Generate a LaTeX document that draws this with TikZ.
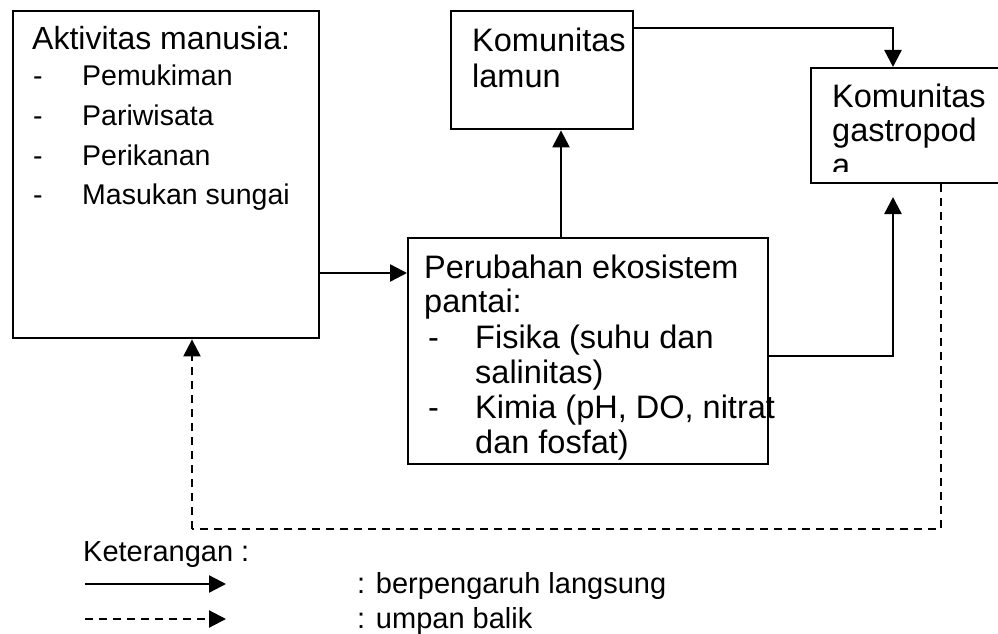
\documentclass[tikz,border=0pt]{standalone}
\usepackage{fontspec}
\setmainfont{Liberation Sans}
\usetikzlibrary{arrows.meta}
\begin{document}
\begin{tikzpicture}[x=1pt,y=-1pt,
  box/.style={draw,line width=2.4pt,anchor=north west,inner sep=0pt},
  arr/.style={line width=2.4pt,-{Triangle[length=17pt,width=17pt]}},
  darr/.style={line width=2.2pt,dash pattern=on 8pt off 6pt,-{Triangle[length=17pt,width=17pt]}},
  dline/.style={line width=2.2pt,dash pattern=on 8pt off 6pt},
  th/.style={anchor=base west,inner sep=0pt,font=\fontsize{32}{35}\selectfont},
  tl/.style={anchor=base west,inner sep=0pt,font=\fontsize{28.5}{35}\selectfont},
  tb/.style={anchor=base west,inner sep=0pt,font=\fontsize{32.5}{35}\selectfont},
  tg/.style={anchor=base west,inner sep=0pt,font=\fontsize{29}{35}\selectfont}]
\useasboundingbox[fill=white] (0,0) rectangle (998,634);
% boxes
\node[box,minimum width=306pt,minimum height=327pt] (act) at (12,10) {};
\node[box,minimum width=182pt,minimum height=118pt] (lam) at (450,10) {};
\node[box,minimum width=200pt,minimum height=115pt] (gas) at (810,67) {};
\node[box,minimum width=360pt,minimum height=226pt] (per) at (407,237) {};
% left box text
\node[th] (a0) at (32,50) {Aktivitas manusia:};
\node[tl] (a1d) at (33,85) {-};
\node[tl] (a1) at (82,85) {Pemukiman};
\node[tl] (a2d) at (33,125) {-};
\node[tl] (a2) at (82,125) {Pariwisata};
\node[tl] (a3d) at (33,165) {-};
\node[tl] (a3) at (82,165) {Perikanan};
\node[tl] (a4d) at (33,204) {-};
\node[tl] (a4) at (82,204) {Masukan sungai};
% lamun
\node[tb] (l1) at (472,52) {Komunitas};
\node[tb] (l2) at (472,87) {lamun};
% gastropoda (clipped)
\begin{scope}
\clip (810,67) rectangle (998,171);
\node[tb] (g1) at (832,107) {Komunitas};
\node[tb] (g2) at (832,141) {gastropod};
\node[tb] (g3) at (832,176) {a};
\end{scope}
% perubahan
\node[tb] (p1) at (424,278) {Perubahan ekosistem};
\node[tb] (p2) at (424,312) {pantai:};
\node[tb] (p3d) at (428,348) {-};
\node[tb] (p3) at (475,348) {Fisika (suhu dan};
\node[tb] (p4) at (475,383) {salinitas)};
\node[tb] (p5d) at (428,418) {-};
\node[tb] (p5) at (475,418) {Kimia (pH, DO, nitrat};
\node[tb] (p6) at (475,453) {dan fosfat)};
% connectors
\coordinate (c1) at (0,273);
\draw[arr] (act.east |- c1) -- (per.west |- c1);
\coordinate (c2) at (561,0);
\draw[arr] (per.north -| c2) -- (lam.south -| c2);
\coordinate (c3) at (893,28);
\draw[arr] (lam.east |- c3) -| (gas.north -| c3);
\coordinate (c4) at (893,356);
\coordinate (c5) at (893,197);
\draw[arr] (per.east |- c4) -| (c5);
\coordinate (c6) at (941,529);
\coordinate (c7) at (192,529);
\draw[dline] (gas.south -| c6) |- (c7);
\draw[darr] (c7) -- (act.south -| c7);
% legend
\node[tg] (k) at (83,561) {Keterangan :};
\coordinate (s1) at (85,584);
\coordinate (s2) at (226,584);
\draw[arr] (s1) -- (s2);
\coordinate (d1) at (85,619);
\coordinate (d2) at (226,619);
\draw[darr] (d1) -- (d2);
\node[tg] (k1) at (357,593) {: berpengaruh langsung};
\node[tg] (k2) at (357,628) {: umpan balik};
\end{tikzpicture}
\end{document}
